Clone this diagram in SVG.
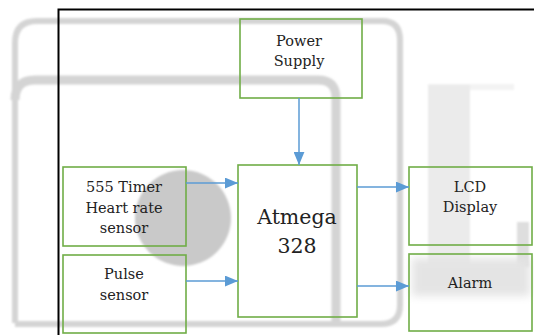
<svg xmlns="http://www.w3.org/2000/svg" width="534" height="335" viewBox="0 0 534 335">
  <style>
    .box { fill: none; stroke: #70ad47; stroke-width: 1.6; }
    .lbl { font-family: "DejaVu Serif", "Liberation Serif", serif; font-size: 14.5px; fill: #222; text-anchor: middle; }
    .big { font-size: 20.5px; }
    .conn { stroke: #5b9bd5; stroke-width: 1.5; fill: none; marker-end: url(#ah); }
    .ghost { fill: none; stroke: #d4d4d4; }
  </style>
  <defs>
    <marker id="ah" viewBox="0 0 12 10" refX="12" refY="5" markerWidth="13" markerHeight="11" markerUnits="userSpaceOnUse" orient="auto">
      <path d="M0,0 L12,5 L0,10 Z" fill="#5b9bd5"/>
    </marker>
    <filter id="soft" x="-10%" y="-10%" width="120%" height="120%">
      <feGaussianBlur stdDeviation="1.2"/>
    </filter>
    <filter id="soft2" x="-20%" y="-20%" width="140%" height="140%">
      <feGaussianBlur stdDeviation="4"/>
    </filter>
  </defs>
  <rect width="534" height="335" fill="#ffffff"/>

  <!-- faint background artifacts -->
  <g id="background" filter="url(#soft)">
    <path class="ghost" stroke-width="6" d="M15,323 L15,43 Q15,21 37,21 L382,21 Q400,21 400,40 L400,305 Q400,324 381,324 L15,324"/>
    <path class="ghost" stroke-width="9" stroke="#d9d9d9" d="M15,100 Q15,80 35,80 L318,80 Q336,80 336,98 L336,324"/>
    <rect x="428" y="84" width="86" height="6" fill="#f3f3f3"/>
    <rect x="428" y="85" width="42" height="180" fill="#ebebeb"/>
    <rect x="517" y="222" width="12" height="45" fill="#dedede"/>
    <circle cx="183" cy="218" r="48" fill="#c9c9c9"/>
  </g>
  <rect x="412" y="258" width="118" height="38" fill="#e4e4e4" filter="url(#soft2)"/>

  <!-- frame lines -->
  <g id="frame" stroke="#000" stroke-width="2" fill="none">
    <path d="M58.5,335 L58.5,9.5 L534,9.5"/>
  </g>

  <g id="power-supply">
    <rect class="box" x="240" y="19" width="122" height="79"/>
    <text class="lbl" x="299" y="46">Power</text>
    <text class="lbl" x="299" y="66">Supply</text>
  </g>
  <g id="timer-sensor">
    <rect class="box" x="63" y="167" width="123" height="79"/>
    <text class="lbl" x="124" y="192">555 Timer</text>
    <text class="lbl" x="124" y="213">Heart rate</text>
    <text class="lbl" x="124" y="233">sensor</text>
  </g>
  <g id="pulse-sensor">
    <rect class="box" x="63" y="255" width="123" height="78"/>
    <text class="lbl" x="124" y="279">Pulse</text>
    <text class="lbl" x="124" y="300">sensor</text>
  </g>
  <g id="atmega">
    <rect class="box" x="238" y="165" width="119" height="152"/>
    <text class="lbl big" x="297" y="224">Atmega</text>
    <text class="lbl big" x="297" y="253">328</text>
  </g>
  <g id="lcd">
    <rect class="box" x="409" y="167" width="123" height="78"/>
    <text class="lbl" x="470" y="192">LCD</text>
    <text class="lbl" x="470" y="212">Display</text>
  </g>
  <g id="alarm">
    <rect class="box" x="409" y="254" width="123" height="77"/>
    <text class="lbl" x="470" y="288">Alarm</text>
  </g>

  <g id="connectors">
    <line class="conn" x1="299" y1="98" x2="299" y2="165"/>
    <line class="conn" x1="186" y1="183" x2="238" y2="183"/>
    <line class="conn" x1="186" y1="281" x2="238" y2="281"/>
    <line class="conn" x1="357" y1="187" x2="409" y2="187"/>
    <line class="conn" x1="357" y1="286" x2="409" y2="286"/>
  </g>
</svg>
